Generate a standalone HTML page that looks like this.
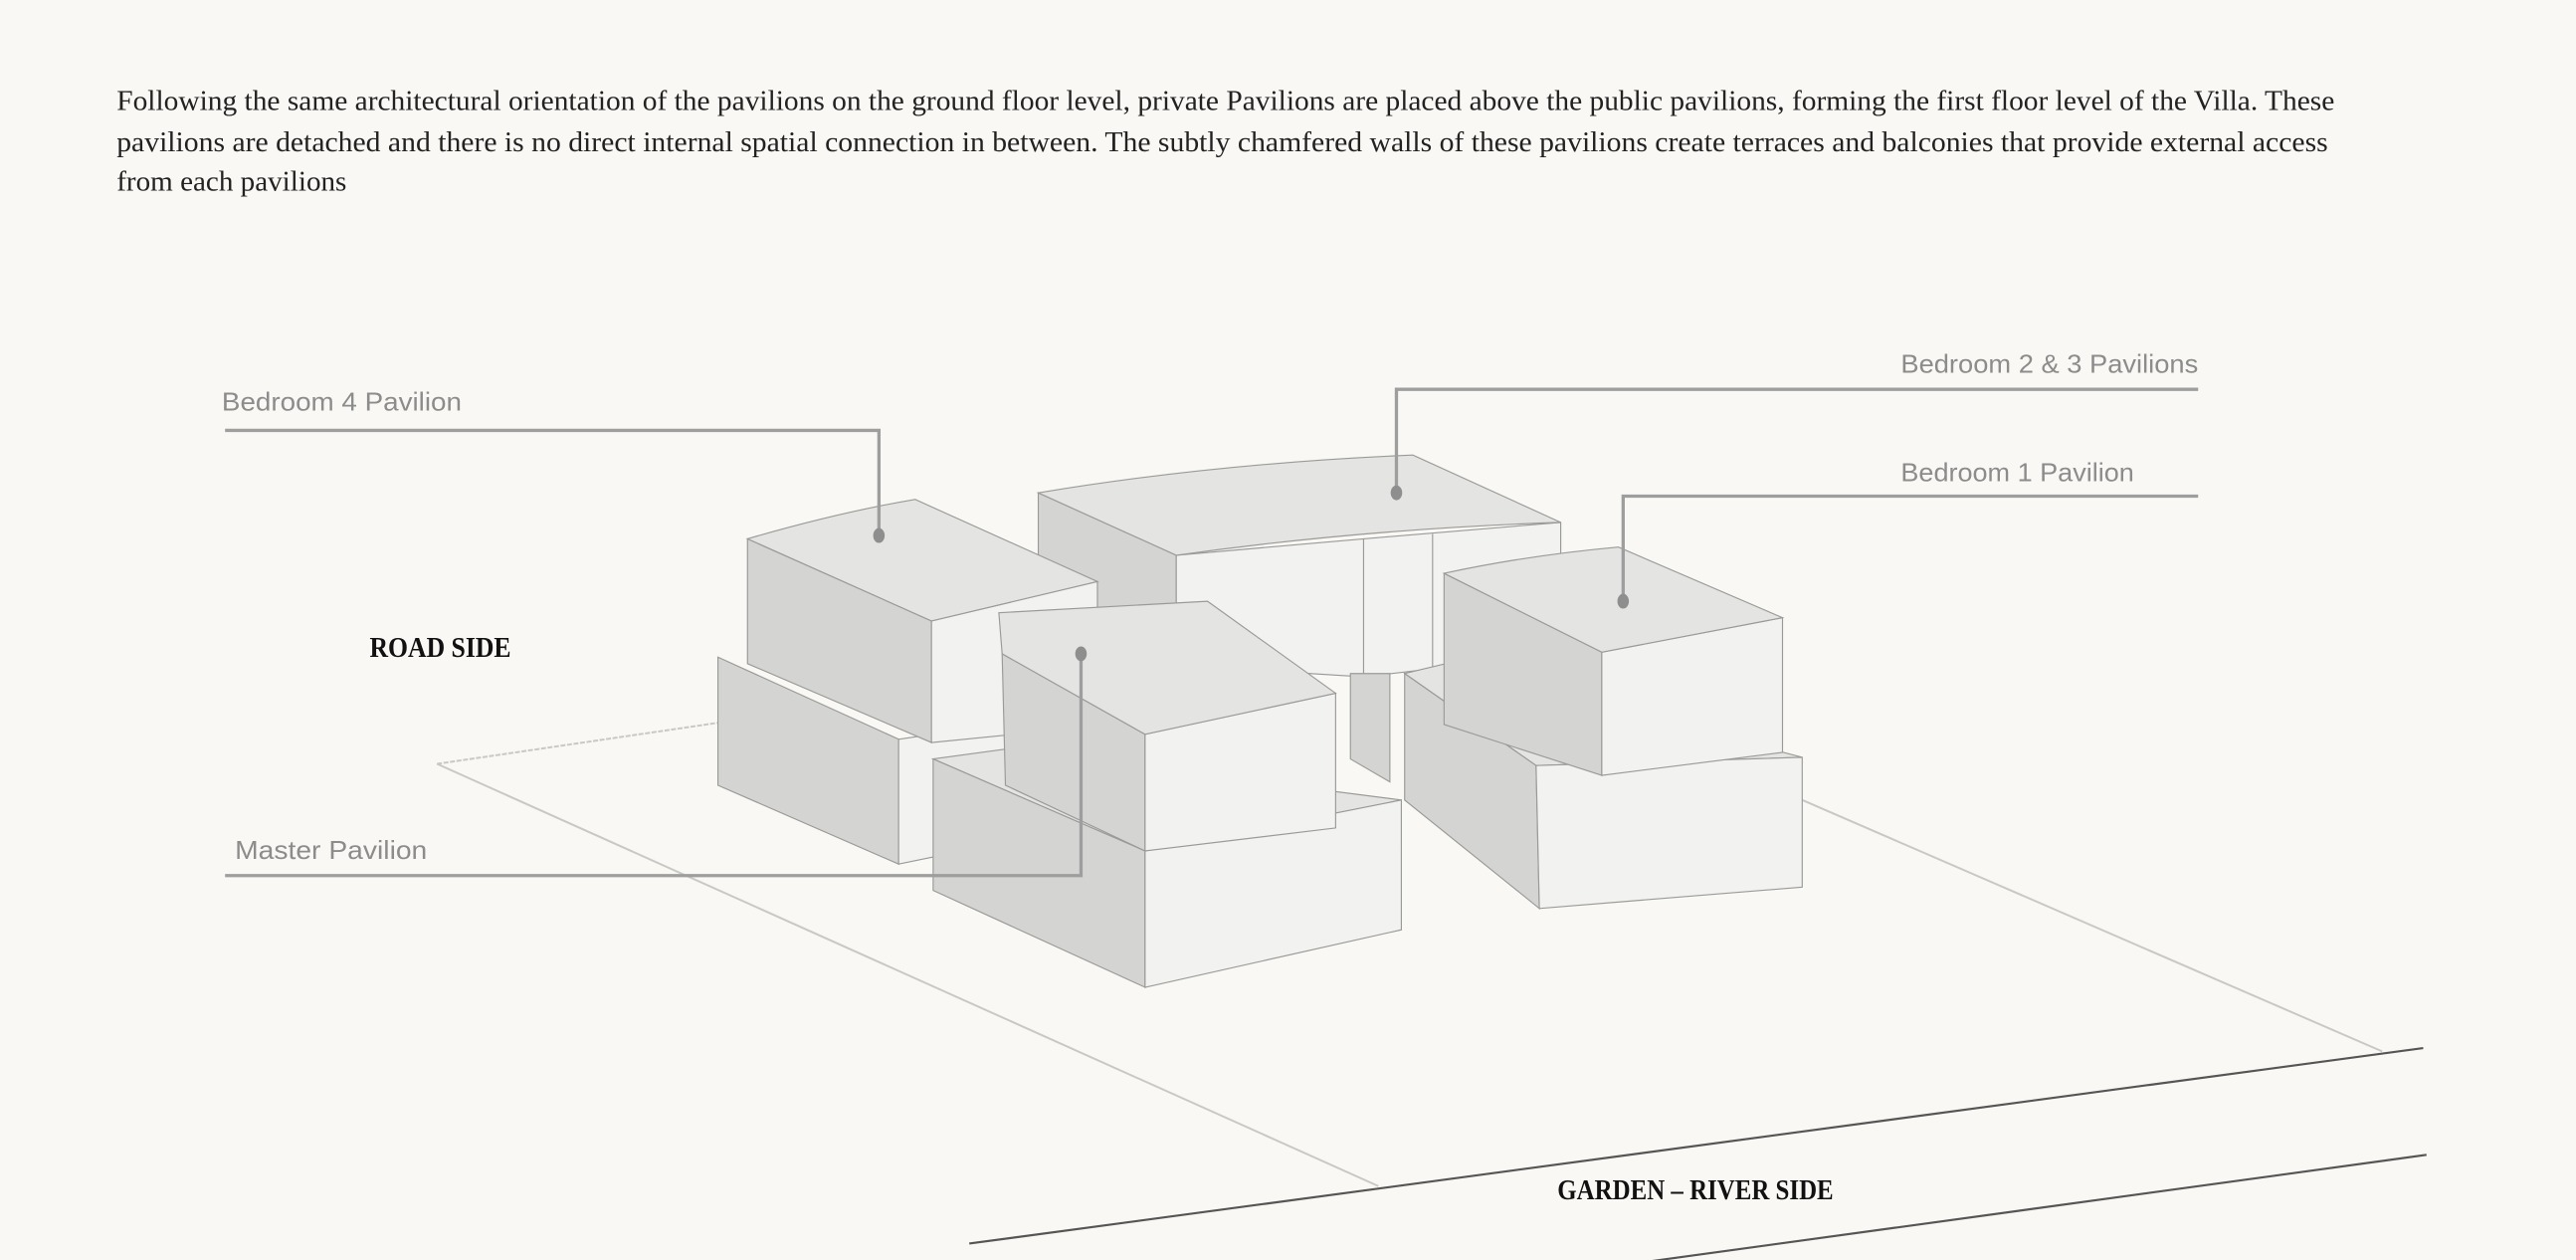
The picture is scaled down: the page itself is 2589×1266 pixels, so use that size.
<!DOCTYPE html>
<html><head><meta charset="utf-8"><style>
html,body{margin:0;padding:0;background:#faf8f4;}
svg{display:block;width:2589px;height:1266px;}
.t{font-family:"Liberation Serif",serif;font-size:17.5px;fill:#222;}
.l{font-family:"Liberation Sans",sans-serif;font-size:15.5px;fill:#8c8c8c;}
.b{font-family:"Liberation Serif",serif;font-size:17px;font-weight:bold;fill:#111;}
.top{fill:#e4e4e2;stroke:#9a9a98;stroke-width:.7;}
.lf{fill:#d4d4d2;stroke:#9a9a98;stroke-width:.7;}
.rf{fill:#f2f2f0;stroke:#9a9a98;stroke-width:.7;}
</style></head><body>
<svg viewBox="0 0 1568 767" preserveAspectRatio="none" xmlns="http://www.w3.org/2000/svg">
<rect width="1568" height="767" fill="#faf8f4"/>
<text class="t" x="71" y="67" textLength="1350" lengthAdjust="spacingAndGlyphs">Following the same architectural orientation of the pavilions on the ground floor level, private Pavilions are placed above the public pavilions, forming the first floor level of the Villa. These</text>
<text class="t" x="71" y="92" textLength="1346" lengthAdjust="spacingAndGlyphs">pavilions are detached and there is no direct internal spatial connection in between. The subtly chamfered walls of these pavilions create terraces and balconies that provide external access</text>
<text class="t" x="71" y="116" textLength="140" lengthAdjust="spacingAndGlyphs">from each pavilions</text>

<!-- site -->
<g fill="none">
<line x1="266" y1="465" x2="437" y2="440" stroke="#c8c8c6" stroke-width="1.2" stroke-dasharray="3 1"/>
<line x1="266" y1="465" x2="839" y2="722" stroke="#c8c8c6" stroke-width="1.2"/>
<line x1="1097" y1="487" x2="1450" y2="640" stroke="#c8c8c6" stroke-width="1.2"/>
<line x1="590" y1="757" x2="1475" y2="638" stroke="#555" stroke-width="1.3"/>
<line x1="1003" y1="768" x2="1477" y2="703" stroke="#555" stroke-width="1.3"/>
</g>

<!-- Bedroom 2&3 -->
<polygon class="lf" points="632,300 716,338 716,405 632,372"/>
<polygon class="rf" points="716,338 830,328 950,318 950,398 830,412 716,405"/>
<path class="top" d="M632,300 Q740,282 860,277 L950,318 Q830,322 716,338 Z"/>
<line x1="830" y1="328" x2="830" y2="412" stroke="#9a9a98" stroke-width=".7"/>
<line x1="872" y1="325" x2="872" y2="406" stroke="#9a9a98" stroke-width=".7"/>
<polygon class="lf" points="822,410 846,410 846,476 822,462"/>

<!-- Bedroom 4 lower -->
<polygon class="lf" points="437,400 547,450 547,526 437,478"/>
<polygon class="rf" points="547,450 615,440 615,512 547,526"/>
<!-- Bedroom 4 upper -->
<polygon class="lf" points="455,328 567,378 567,452 455,404"/>
<polygon class="rf" points="567,378 668,354 668,442 567,452"/>
<path class="top" d="M455,328 Q510,312 557,304 L668,354 L567,378 Z"/>

<!-- Bedroom 1 lower -->
<polygon class="top" points="855,410 880,404 1097,461 935,466"/>
<polygon class="lf" points="855,410 935,466 937,553 855,487"/>
<polygon class="rf" points="935,466 1097,461 1097,540 937,553"/>
<!-- Bedroom 1 upper -->
<polygon class="lf" points="879,349 975,397 975,472 879,441"/>
<polygon class="rf" points="975,397 1085,376 1085,458 975,472"/>
<path class="top" d="M879,349 Q930,338 985,333 L1085,376 L975,397 Z"/>

<!-- Master lower -->
<polygon class="top" points="568,462 612,456 853,487 697,518"/>
<polygon class="lf" points="568,462 697,518 697,601 568,542"/>
<polygon class="rf" points="697,518 853,487 853,566 697,601"/>
<!-- Master upper -->
<polygon class="lf" points="610,398 697,447 697,518 612,478"/>
<polygon class="rf" points="697,447 813,422 813,504 697,518"/>
<polygon class="top" points="608,373 735,366 813,422 697,447 610,398"/>

<!-- leaders -->
<g fill="none" stroke="#9e9e9e" stroke-width="2">
<polyline points="137,262 535,262 535,324"/>
<polyline points="1338,237 850,237 850,298"/>
<polyline points="1338,302 988,302 988,364"/>
<polyline points="137,533 658,533 658,400"/>
</g>
<g fill="#8e8e8e">
<ellipse cx="535" cy="326" rx="3.5" ry="4.5"/>
<ellipse cx="850" cy="300" rx="3.5" ry="4.5"/>
<ellipse cx="988" cy="366" rx="3.5" ry="4.5"/>
<ellipse cx="658" cy="398" rx="3.5" ry="4.5"/>
</g>
<text class="l" x="135" y="250" textLength="146" lengthAdjust="spacingAndGlyphs">Bedroom 4 Pavilion</text>
<text class="l" x="1157" y="227" textLength="181" lengthAdjust="spacingAndGlyphs">Bedroom 2 &amp; 3 Pavilions</text>
<text class="l" x="1157" y="293" textLength="142" lengthAdjust="spacingAndGlyphs">Bedroom 1 Pavilion</text>
<text class="l" x="143" y="523" textLength="117" lengthAdjust="spacingAndGlyphs">Master Pavilion</text>
<text class="b" x="225" y="400" textLength="86" lengthAdjust="spacingAndGlyphs">ROAD SIDE</text>
<text class="b" x="948" y="730" textLength="168" lengthAdjust="spacingAndGlyphs">GARDEN – RIVER SIDE</text>
</svg>
</body></html>
